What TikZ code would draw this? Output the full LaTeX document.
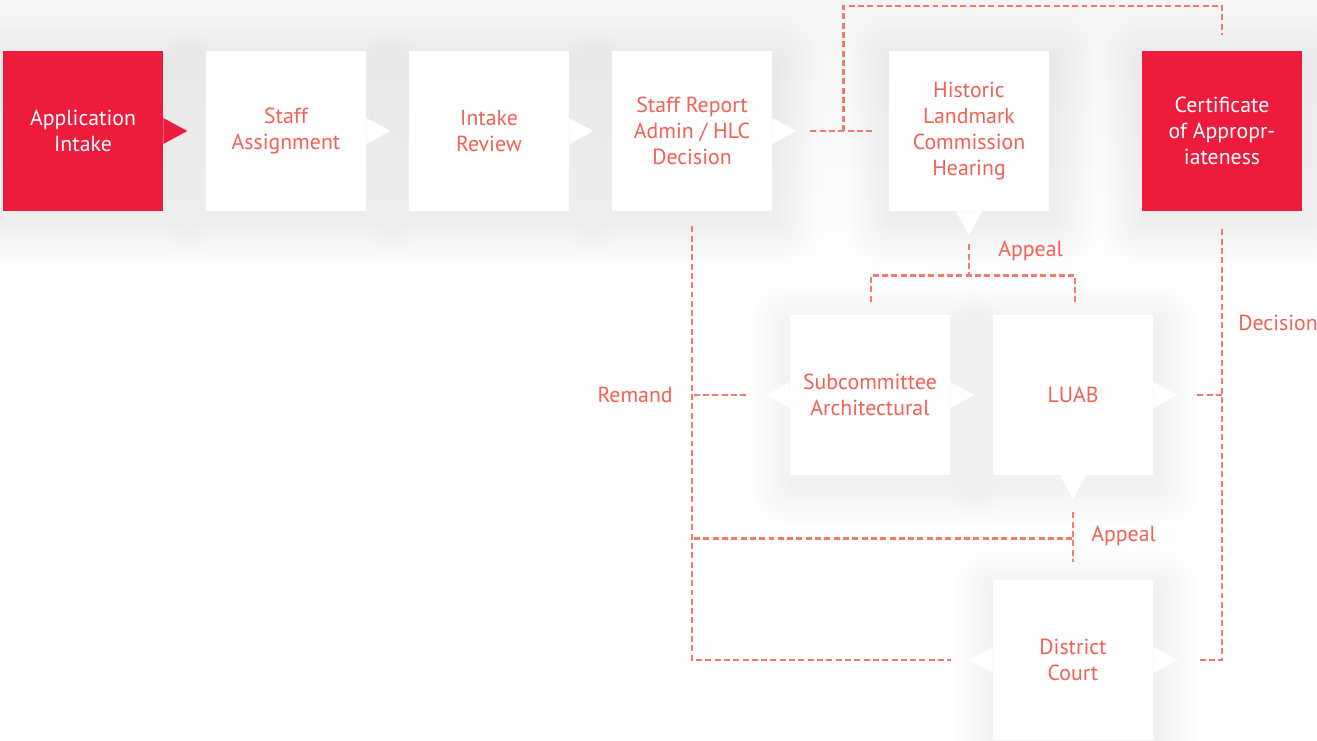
\documentclass[tikz,border=0pt]{standalone}
\usepackage{fontspec}
\setmainfont{PT Sans}
\usetikzlibrary{calc}
\definecolor{cred}{RGB}{238,27,61}
\definecolor{ctext}{RGB}{242,96,86}
\definecolor{cdash}{RGB}{243,122,108}
\pgfdeclarelayer{bg}
\pgfsetlayers{bg,main}
\newcommand\tipE[2]{\fill[#1] ($(#2.east)+(0,-13)$) -- ++(24,13) -- ++(-24,13) -- cycle;}
\newcommand\tipW[2]{\fill[#1] ($(#2.west)+(0,-13)$) -- ++(-24,13) -- ++(24,13) -- cycle;}
\newcommand\tipS[2]{\fill[#1] ($(#2.south)+(-13,0)$) -- ++(13,24) -- ++(13,-24) -- cycle;}
\newcommand\softshadow[1]{%
  \begin{pgfonlayer}{bg}
  \foreach \k in {1,...,14}{
    \fill[black,opacity=0.0055,rounded corners=\k*1.5pt]
      ($(#1.north west)+(-\k*3+3,-\k*3+10)$) rectangle ($(#1.south east)+(\k*3+3,\k*3+10)$);
  }
  \end{pgfonlayer}}
\begin{document}
\begin{tikzpicture}[x=0.02cm,y=-0.02cm,
  box/.style={minimum width=3.2cm,minimum height=3.2cm,inner sep=0pt,align=center,
    font=\fontsize{12.4}{14.7}\selectfont,fill=white,text=ctext},
  redbox/.style={box,fill=cred,text=white},
  link/.style={draw=cdash,line width=1.45pt,dash pattern=on 3.4pt off 1.9pt},
  lbl/.style={text=ctext,font=\fontsize{12.4}{14.7}\selectfont,inner sep=0pt}]
\useasboundingbox (0,0) rectangle (1317,740);
\begin{pgfonlayer}{bg}
\fill[white] (0,0) rectangle (1317,740);
\shade[top color=black!4,bottom color=white] (0,0) rectangle (1317,300);
\end{pgfonlayer}

\node[redbox] (ai)   at (83,131)   {Application\\Intake};
\node[box]    (sa)   at (286,131)  {Staff\\Assignment};
\node[box]    (ir)   at (489,131)  {Intake\\Review};
\node[box]    (sr)   at (692,131)  {Staff Report\\Admin / HLC\\Decision};
\node[box]    (hlc)  at (969,131)  {Historic\\Landmark\\Commission\\Hearing};
\node[redbox] (cert) at (1222,131) {Certificate\\of Appropr-\\iateness};
\node[box]    (sub)  at (870,395)  {Subcommittee\\Architectural};
\node[box]    (luab) at (1073,395) {LUAB};
\node[box]    (dc)   at (1073,660) {District\\Court};

\softshadow{ai}\softshadow{sa}\softshadow{ir}\softshadow{sr}\softshadow{hlc}
\softshadow{cert}\softshadow{sub}\softshadow{luab}\softshadow{dc}

\tipE{cred}{ai}
\tipE{white}{sa}
\tipE{white}{ir}
\tipE{white}{sr}
\tipS{white}{hlc}
\tipW{white}{sub}
\tipE{white}{sub}
\tipE{white}{luab}
\tipS{white}{luab}
\tipW{white}{dc}
\tipE{white}{dc}

% Staff report -> hearing, and loop to certificate
\draw[link] ($(sr.east)+(38,0)$) -- ($(hlc.west)+(-16,0)$);
\draw[link] ($(sr.east)+(71,0)$) -- ++(0,-125) -| ($(cert.north)+(0,-16)$);

% hearing appeal
\coordinate (a1) at ($(hlc.south)+(0,64)$);
\draw[link] ($(hlc.south)+(0,33)$) -- (a1);
\draw[link] ($(sub.north)+(1,-13)$) |- (a1) -| ($(luab.north)+(2,-13)$);
\node[lbl,anchor=west] (ap1) at (998,251) {Appeal};

% remand
\draw[link] ($(sub.west)+(-96,0)$) -- ($(sub.west)+(-42,0)$);
\node[lbl,anchor=east] (rem) at (673,395) {Remand};
\draw[link] ($(sr.south)+(0,15)$) |- ($(dc.west)+(-42,0)$);

% LUAB appeal
\coordinate (a2) at ($(luab.south)+(0,63)$);
\draw[link] ($(sr.south)+(2,327)$) -- (a2);
\draw[link] ($(luab.south)+(0,37)$) -- ($(luab.south)+(0,87)$);
\node[lbl,anchor=west] (ap2) at (1091,536) {Appeal};

% decision
\draw[link] ($(cert.south)+(0,18)$) |- ($(dc.east)+(44,0)$);
\draw[link] ($(luab.east)+(44,0)$) -- ($(luab.east)+(69,0)$);
\node[lbl,anchor=west] (dec) at (1238,323) {Decision};
\end{tikzpicture}
\end{document}
